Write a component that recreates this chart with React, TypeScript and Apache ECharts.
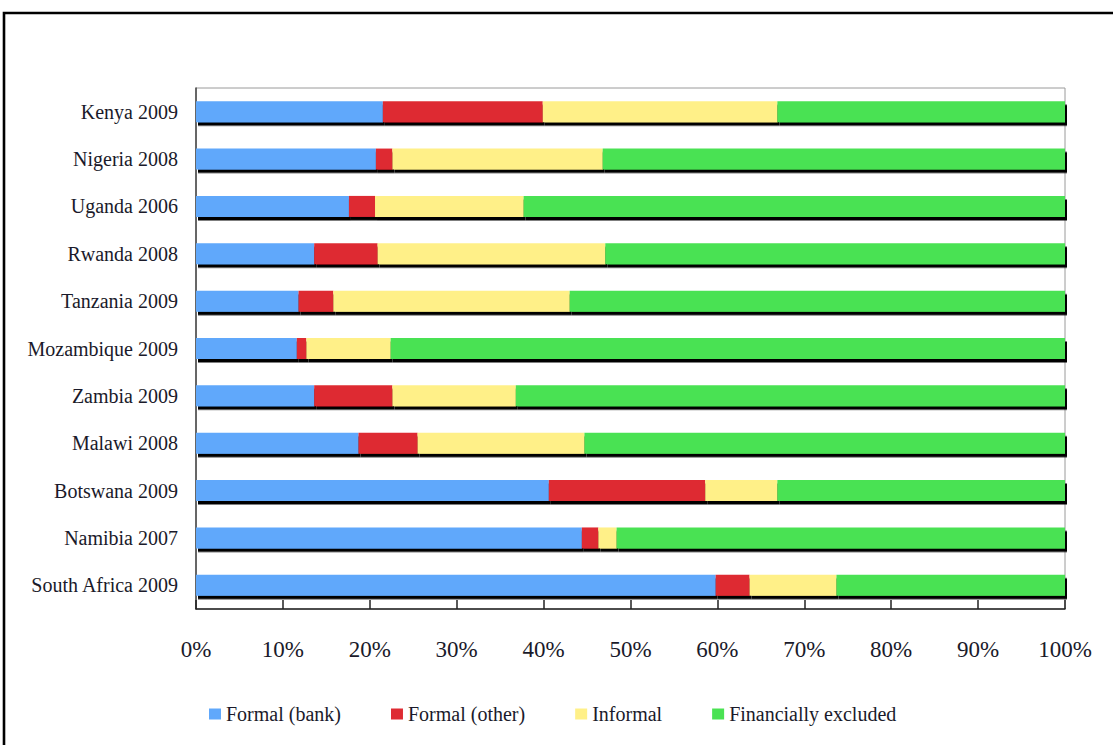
import React, { useEffect, useRef } from "react";
import * as echarts from "echarts";

const categories = [
  "Kenya 2009",
  "Nigeria 2008",
  "Uganda 2006",
  "Rwanda 2008",
  "Tanzania 2009",
  "Mozambique 2009",
  "Zambia 2009",
  "Malawi 2008",
  "Botswana 2009",
  "Namibia 2007",
  "South Africa 2009",
];

const formalBank = [21.5, 20.7, 17.6, 13.6, 11.8, 11.6, 13.6, 18.7, 40.6, 44.4, 59.8];
const formalOther = [18.4, 1.9, 3.0, 7.3, 4.0, 1.1, 9.0, 6.8, 18.0, 1.9, 3.9];
const informal = [27.0, 24.2, 17.1, 26.2, 27.2, 9.7, 14.2, 19.2, 8.3, 2.1, 10.0];
const excluded = [33.1, 53.2, 62.3, 52.9, 57.0, 77.6, 63.2, 55.3, 33.1, 51.6, 26.3];

const seriesNames = ["Formal (bank)", "Formal (other)", "Informal", "Financially excluded"];
const seriesColors = ["#60a8fb", "#de2b33", "#fff088", "#4ae253"];
const xTicks = [0, 10, 20, 30, 40, 50, 60, 70, 80, 90, 100];

const FONT = "'Liberation Serif', 'Times New Roman', serif";

export default function App() {
  const ref = useRef<HTMLDivElement>(null);

  useEffect(() => {
    if (!ref.current) return;
    const chart = echarts.init(ref.current, null, { renderer: "svg" });
    const values = [formalBank, formalOther, informal, excluded];
    chart.setOption({
      animation: false,
      backgroundColor: "#ffffff",
      textStyle: { fontFamily: FONT },
      graphic: [
        {
          type: "rect",
          shape: { x: 4, y: 13, width: 1200, height: 800 },
          style: { fill: "none", stroke: "#000", lineWidth: 2.6 },
          silent: true,
        },
      ],
      grid: {
        left: 196,
        right: 48,
        top: 88,
        bottom: 136,
        show: true,
        borderColor: "#9a9a9a",
        borderWidth: 1,
      },
      legend: {
        left: 204,
        top: 699,
        icon: "rect",
        itemWidth: 12,
        itemHeight: 11,
        itemGap: 50,
        textStyle: { fontFamily: FONT, fontSize: 20, color: "#1a1a2a" },
        data: seriesNames,
      },
      xAxis: {
        type: "value",
        min: xTicks[0],
        max: xTicks[xTicks.length - 1],
        interval: 10,
        axisLine: { show: true, lineStyle: { color: "#222", width: 1.5 } },
        axisTick: { show: true, inside: true, length: 9, lineStyle: { color: "#222", width: 1.5 } },
        splitLine: { show: false },
        axisLabel: {
          margin: 29,
          fontFamily: FONT,
          fontSize: 23,
          color: "#1a1a2a",
          formatter: "{value}%",
        },
      },
      yAxis: {
        type: "category",
        inverse: true,
        data: categories,
        axisLine: { show: true, lineStyle: { color: "#444", width: 1.5 } },
        axisTick: { show: false },
        axisLabel: { margin: 18, fontFamily: FONT, fontSize: 20, color: "#1a1a2a" },
      },
      series: seriesNames.map((name, i) => ({
        name,
        type: "bar",
        stack: "total",
        barWidth: 21,
        data: values[i],
        itemStyle: {
          color: seriesColors[i],
          shadowColor: "#000",
          shadowBlur: 0,
          shadowOffsetX: 2,
          shadowOffsetY: 3.5,
        },
      })),
    });
    return () => chart.dispose();
  }, []);

  return (
    <div
      ref={ref}
      style={{ position: "fixed", left: 0, top: 0, width: 1113, height: 745 }}
    />
  );
}
